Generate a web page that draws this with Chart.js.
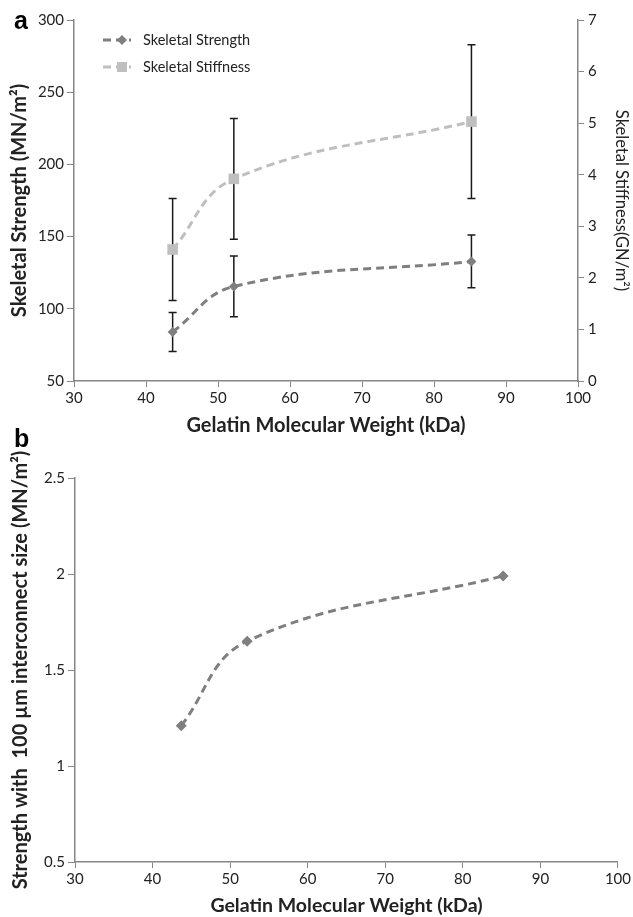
<!DOCTYPE html>
<html>
<head>
<meta charset="utf-8">
<script src="https://cdn.jsdelivr.net/npm/chart.js@4.4.0/dist/chart.umd.min.js"></script>
<style>
body{margin:0;background:#fff;width:633px;height:917px;position:relative;overflow:hidden}
.wrap{position:absolute;left:0}
.tag{position:absolute;font:bold 25px "Liberation Sans",Arial,sans-serif;color:#000;line-height:29px}
</style>
</head>
<body>
<div class="wrap" style="top:0"><canvas id="chartA" width="633" height="442"></canvas></div>
<div class="wrap" style="top:442px"><canvas id="chartB" width="633" height="475"></canvas></div>
<div class="tag" style="left:14px;top:6px">a</div>
<div class="tag" style="left:14px;top:424px">b</div>
<script>
// data
const molWeight = [43.7, 52.2, 85.2];
const skeletalStrength = [84, 115.5, 132.8];
const strengthError = [13.5, 21, 18.3];
const skeletalStiffness = [2.55, 3.92, 5.03];
const stiffnessError = [0.99, 1.17, 1.49];
const interconnectStrength = [1.21, 1.65, 1.99];

const darkGrey = '#7f7f7f'
const lightGrey = '#bfbfbf'
const axisGrey = '#868686'
const tickFont = {family: 'Lato', size: 15}
const titleFont = {family: 'Lato', size: 20, weight: 'bold'}

function pts(ys) {
    return molWeight.map((x, i) => ({x: x, y: ys[i]}))
}

// vertical error bars, drawn under the markers
const errorBars = {
    id: 'errorBars',
    beforeDatasetsDraw(chart) {
        const ctx = chart.ctx
        chart.data.datasets.forEach((ds, di) => {
            if (!ds.errors) return
            const meta = chart.getDatasetMeta(di)
            const xs = chart.scales[meta.xAxisID]
            const ys = chart.scales[meta.yAxisID]
            ctx.save()
            ctx.strokeStyle = '#1a1a1a'
            ctx.lineWidth = 1.5
            ds.data.forEach((p, i) => {
                const x = xs.getPixelForValue(p.x)
                const top = ys.getPixelForValue(p.y + ds.errors[i])
                const bot = ys.getPixelForValue(p.y - ds.errors[i])
                ctx.beginPath()
                ctx.moveTo(x, top); ctx.lineTo(x, bot)
                ctx.moveTo(x - 4, top); ctx.lineTo(x + 4, top)
                ctx.moveTo(x - 4, bot); ctx.lineTo(x + 4, bot)
                ctx.stroke()
            })
            ctx.restore()
        })
    }
}

// excel-like legend: dashed line with marker in the middle
const sampleLegend = {
    id: 'sampleLegend',
    afterDatasetsDraw(chart) {
        const ctx = chart.ctx
        const a = chart.chartArea
        chart.data.datasets.forEach((ds, i) => {
            const y = a.top + 20 + i * 27
            const x0 = a.left + 29
            ctx.save()
            ctx.strokeStyle = ds.borderColor
            ctx.lineWidth = 3
            ctx.setLineDash([8, 5])
            ctx.beginPath(); ctx.moveTo(x0, y); ctx.lineTo(x0 + 28, y); ctx.stroke()
            ctx.setLineDash([])
            ctx.fillStyle = ds.backgroundColor
            const mx = x0 + 19
            ctx.beginPath()
            if (ds.pointStyle === 'rectRot') {
                ctx.moveTo(mx, y - 5); ctx.lineTo(mx + 5, y); ctx.lineTo(mx, y + 5); ctx.lineTo(mx - 5, y)
            } else {
                ctx.rect(mx - 5, y - 5, 10, 10)
            }
            ctx.fill()
            ctx.fillStyle = '#222'
            ctx.font = '14.5px Lato'
            ctx.textBaseline = 'middle'
            ctx.fillText(ds.label, x0 + 40, y)
            ctx.restore()
        })
    }
}

function xAxis(h, titleSize, titlePad) {
    return {
        type: 'linear', min: 30, max: 100,
        ticks: {stepSize: 10, font: tickFont, color: '#222', padding: 2, autoSkip: false},
        grid: {drawOnChartArea: false, tickLength: 6, color: axisGrey},
        border: {color: axisGrey, width: 1.5},
        title: {display: true, text: 'Gelatin Molecular Weight (kDa)', font: {family: 'Lato', size: titleSize, weight: 'bold'}, color: '#222', padding: titlePad},
        afterFit: (s) => { s.height = h }
    }
}

const lineStyle = {
    borderWidth: 3,
    borderDash: [8, 5],
    tension: 0.4,
    fill: false
}

new Chart(document.getElementById('chartA'), {
    type: 'line',
    data: {
        datasets: [
            Object.assign({
                label: 'Skeletal Strength',
                data: pts(skeletalStrength),
                errors: strengthError,
                yAxisID: 'y',
                borderColor: darkGrey, backgroundColor: darkGrey,
                pointStyle: 'rectRot', pointRadius: 5, pointBorderWidth: 0
            }, lineStyle),
            Object.assign({
                label: 'Skeletal Stiffness',
                data: pts(skeletalStiffness),
                errors: stiffnessError,
                yAxisID: 'y1',
                borderColor: lightGrey, backgroundColor: lightGrey,
                pointStyle: 'rect', pointRadius: 7.5, pointBorderWidth: 0
            }, lineStyle)
        ]
    },
    options: {
        responsive: false,
        animation: false,
        layout: {padding: {top: 20, left: 0, right: 0, bottom: 0}},
        plugins: {legend: {display: false}, tooltip: {enabled: false}},
        scales: {
            x: xAxis(61, 20, {top: 2, bottom: 4}),
            y: {
                position: 'left', min: 50, max: 300,
                ticks: {stepSize: 50, font: tickFont, color: '#222', padding: 3},
                grid: {drawOnChartArea: false, tickLength: 7, color: axisGrey},
                border: {color: axisGrey, width: 1.5},
                title: {display: true, text: 'Skeletal Strength (MN/m²)', font: titleFont, color: '#222', padding: {top: 8, bottom: 2}},
                afterFit: (s) => { s.width = 74 }
            },
            y1: {
                position: 'right', min: 0, max: 7,
                ticks: {stepSize: 1, font: tickFont, color: '#222', padding: 4},
                grid: {drawOnChartArea: false, tickLength: 6, color: axisGrey},
                border: {color: axisGrey, width: 1.5},
                title: {display: true, text: 'Skeletal Stiffness(GN/m²)', font: {family: 'Lato', size: 16.5}, color: '#222', padding: {top: 2, bottom: 2}},
                afterFit: (s) => { s.width = 55 }
            }
        }
    },
    plugins: [errorBars, sampleLegend]
})

new Chart(document.getElementById('chartB'), {
    type: 'line',
    data: {
        datasets: [
            Object.assign({
                label: 'Strength',
                data: pts(interconnectStrength),
                borderColor: darkGrey, backgroundColor: darkGrey,
                pointStyle: 'rectRot', pointRadius: 5.5, pointBorderWidth: 0
            }, lineStyle)
        ]
    },
    options: {
        responsive: false,
        animation: false,
        layout: {padding: {top: 36, left: 0, right: 13, bottom: 0}},
        plugins: {legend: {display: false}, tooltip: {enabled: false}},
        scales: {
            x: xAxis(55, 19.5, {top: 2, bottom: 0}),
            y: {
                min: 0.5, max: 2.5,
                ticks: {stepSize: 0.5, font: tickFont, color: '#222', padding: 3,
                    callback: (v) => String(v)},
                grid: {drawOnChartArea: false, tickLength: 7, color: axisGrey},
                border: {color: axisGrey, width: 1.5},
                title: {display: true, text: 'Strength with  100 µm interconnect size (MN/m²)', font: titleFont, color: '#222', padding: {top: 9, bottom: 2}},
                afterFit: (s) => { s.width = 75 }
            }
        }
    }
})
</script>
</body>
</html>
